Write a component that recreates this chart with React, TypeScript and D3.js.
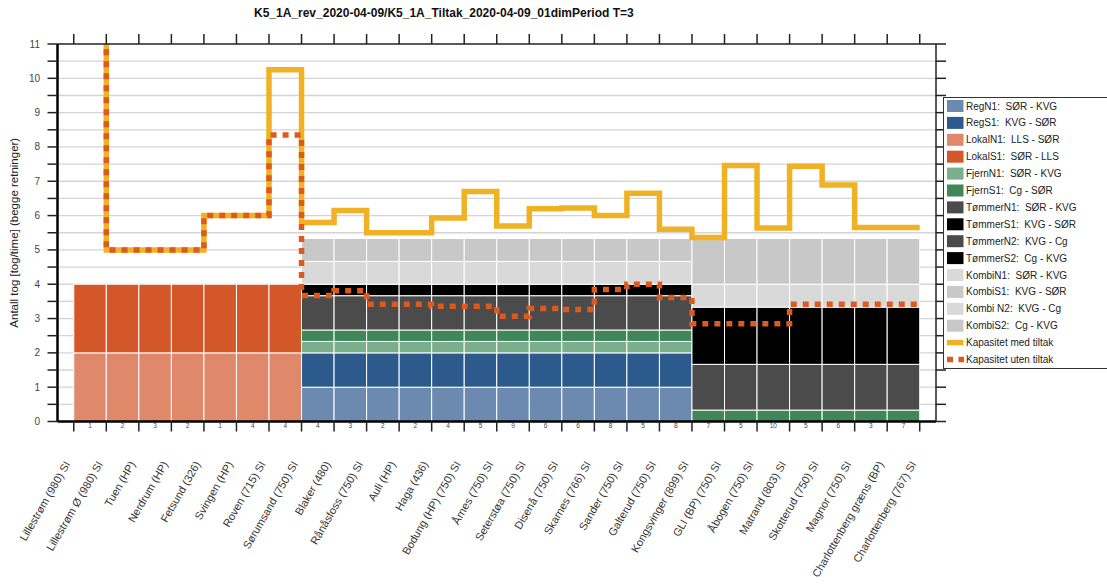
import React from "react";
import * as d3 from "d3";

// ── Layout ───────────────────────────────────────────────────────────

const W = 1107;
const H = 588;
const PLOT = { left: 57.5, right: 936, top: 44, bottom: 421.5 };
const FONT = "'Liberation Sans', Arial, sans-serif";

// ── Data ─────────────────────────────────────────────────────────────

const title = "K5_1A_rev_2020-04-09/K5_1A_Tiltak_2020-04-09_01dimPeriod T=3";
const yTitle = "Antall tog [tog/time] (begge retninger)";

const stations = [
  "Lillestrøm (980) SI",
  "Lillestrøm Ø (980) SI",
  "Tuen (HP)",
  "Nerdrum (HP)",
  "Fetsund (326)",
  "Svingen (HP)",
  "Roven (715) SI",
  "Sørumsand (750) SI",
  "Blaker (480)",
  "Rånåsfoss (750) SI",
  "Auli (HP)",
  "Haga (436)",
  "Bodung (HP) (750) SI",
  "Årnes (750) SI",
  "Seterstøa (750) SI",
  "Disenå (750) SI",
  "Skarnes (766) SI",
  "Sander (750) SI",
  "Galterud (750) SI",
  "Kongsvinger (899) SI",
  "GLI (BP) (750) SI",
  "Åbogen (750) SI",
  "Matrand (803) SI",
  "Skotterud (750) SI",
  "Magnor (750) SI",
  "Charlottenberg græns (BP)",
  "Charlottenberg (767) SI",
];

// small numbers printed under each section
const sectionCounts = [1, 2, 3, 2, 1, 4, 4, 4, 3, 2, 2, 4, 5, 9, 6, 6, 8, 5, 8, 7, 5, 10, 5, 6, 3, 7];

// trains per hour per section, one value per section
const regN1 = [0, 0, 0, 0, 0, 0, 0, 1, 1, 1, 1, 1, 1, 1, 1, 1, 1, 1, 1, 0, 0, 0, 0, 0, 0, 0];
const regS1 = [0, 0, 0, 0, 0, 0, 0, 1, 1, 1, 1, 1, 1, 1, 1, 1, 1, 1, 1, 0, 0, 0, 0, 0, 0, 0];
const lokalN1 = [2, 2, 2, 2, 2, 2, 2, 0, 0, 0, 0, 0, 0, 0, 0, 0, 0, 0, 0, 0, 0, 0, 0, 0, 0, 0];
const lokalS1 = [2, 2, 2, 2, 2, 2, 2, 0, 0, 0, 0, 0, 0, 0, 0, 0, 0, 0, 0, 0, 0, 0, 0, 0, 0, 0];
const fjernN1 = [0, 0, 0, 0, 0, 0, 0, 0.333, 0.333, 0.333, 0.333, 0.333, 0.333, 0.333, 0.333, 0.333, 0.333, 0.333, 0.333, 0, 0, 0, 0, 0, 0, 0];
const fjernS1 = [0, 0, 0, 0, 0, 0, 0, 0.333, 0.333, 0.333, 0.333, 0.333, 0.333, 0.333, 0.333, 0.333, 0.333, 0.333, 0.333, 0.333, 0.333, 0.333, 0.333, 0.333, 0.333, 0.333];
const tommerN1 = [0, 0, 0, 0, 0, 0, 0, 1, 1, 1, 1, 1, 1, 1, 1, 1, 1, 1, 1, 0, 0, 0, 0, 0, 0, 0];
const tommerS1 = [0, 0, 0, 0, 0, 0, 0, 0.333, 0.333, 0.333, 0.333, 0.333, 0.333, 0.333, 0.333, 0.333, 0.333, 0.333, 0.333, 0, 0, 0, 0, 0, 0, 0];
const tommerN2 = [0, 0, 0, 0, 0, 0, 0, 0, 0, 0, 0, 0, 0, 0, 0, 0, 0, 0, 0, 1.333, 1.333, 1.333, 1.333, 1.333, 1.333, 1.333];
const tommerS2 = [0, 0, 0, 0, 0, 0, 0, 0, 0, 0, 0, 0, 0, 0, 0, 0, 0, 0, 0, 1.667, 1.667, 1.667, 1.667, 1.667, 1.667, 1.667];
const kombiN1 = [0, 0, 0, 0, 0, 0, 0, 0.667, 0.667, 0.667, 0.667, 0.667, 0.667, 0.667, 0.667, 0.667, 0.667, 0.667, 0.667, 0, 0, 0, 0, 0, 0, 0];
const kombiS1 = [0, 0, 0, 0, 0, 0, 0, 0.667, 0.667, 0.667, 0.667, 0.667, 0.667, 0.667, 0.667, 0.667, 0.667, 0.667, 0.667, 0, 0, 0, 0, 0, 0, 0];
const kombiN2 = [0, 0, 0, 0, 0, 0, 0, 0, 0, 0, 0, 0, 0, 0, 0, 0, 0, 0, 0, 0.667, 0.667, 0.667, 0.667, 0.667, 0.667, 0.667];
const kombiS2 = [0, 0, 0, 0, 0, 0, 0, 0, 0, 0, 0, 0, 0, 0, 0, 0, 0, 0, 0, 1.333, 1.333, 1.333, 1.333, 1.333, 1.333, 1.333];

// capacity per section (first section runs off the top of the chart)
const capMedTiltak = [12, 5, 5, 5, 6, 6, 10.25, 5.8, 6.15, 5.5, 5.5, 5.93, 6.7, 5.7, 6.2, 6.22, 6.0, 6.65, 5.6, 5.36, 7.46, 5.64, 7.44, 6.89, 5.65, 5.65];
const capUtenTiltak = [12, 5, 5, 5, 6, 6, 8.35, 3.67, 3.81, 3.42, 3.42, 3.36, 3.36, 3.07, 3.29, 3.26, 3.85, 4.0, 3.61, 2.85, 2.85, 2.85, 3.42, 3.42, 3.42, 3.42];

const series = [
  { key: "regN1", label: "RegN1:  SØR - KVG", color: "#6c8ab0", values: regN1 },
  { key: "regS1", label: "RegS1:  KVG - SØR", color: "#2d5a8c", values: regS1 },
  { key: "lokalN1", label: "LokalN1:  LLS - SØR", color: "#e0886a", values: lokalN1 },
  { key: "lokalS1", label: "LokalS1:  SØR - LLS", color: "#d4572a", values: lokalS1 },
  { key: "fjernN1", label: "FjernN1:  SØR - KVG", color: "#7aae8c", values: fjernN1 },
  { key: "fjernS1", label: "FjernS1:  Cg - SØR", color: "#3f8759", values: fjernS1 },
  { key: "tommerN1", label: "TømmerN1:  SØR - KVG", color: "#4b4b4b", values: tommerN1 },
  { key: "tommerS1", label: "TømmerS1:  KVG - SØR", color: "#000000", values: tommerS1 },
  { key: "tommerN2", label: "TømmerN2:  KVG - Cg", color: "#4b4b4b", values: tommerN2 },
  { key: "tommerS2", label: "TømmerS2:  Cg - KVG", color: "#000000", values: tommerS2 },
  { key: "kombiN1", label: "KombiN1:  SØR - KVG", color: "#d9d9d9", values: kombiN1 },
  { key: "kombiS1", label: "KombiS1:  KVG - SØR", color: "#c8c8c8", values: kombiS1 },
  { key: "kombiN2", label: "Kombi N2:  KVG - Cg", color: "#d9d9d9", values: kombiN2 },
  { key: "kombiS2", label: "KombiS2:  Cg - KVG", color: "#c8c8c8", values: kombiS2 },
];

const YELLOW = "#efb224";
const RED = "#dd5a1e";

// ── Chart ────────────────────────────────────────────────────────────

export default function App() {
  const x = d3.scaleLinear().domain([-0.5, stations.length - 0.5]).range([PLOT.left, PLOT.right]);
  const y = d3.scaleLinear().domain([0, 11]).range([PLOT.bottom, PLOT.top]);

  const rows = sectionCounts.map((_, i) => {
    const r: Record<string, number> = { i };
    series.forEach((s) => (r[s.key] = s.values[i]));
    return r;
  });
  const stacked = d3.stack<Record<string, number>>().keys(series.map((s) => s.key))(rows);

  const capLine = d3
    .line<[number, number]>()
    .x((d) => x(d[0]))
    .y((d) => y(d[1]))
    .curve(d3.curveStepAfter);
  const toPts = (v: number[]): [number, number][] => [
    ...v.map((d, i) => [i, d] as [number, number]),
    [v.length, v[v.length - 1]],
  ];

  const halfTicks = d3.range(0, 11.01, 0.5);
  const legendY = (k: number) => 106 + k * 16.9;

  return (
    <div style={{ position: "absolute", left: 0, top: 0 }}>
      <svg width={W} height={H} style={{ display: "block", fontFamily: FONT }}>
        <defs>
          <clipPath id="plotClip">
            <rect x={PLOT.left} y={PLOT.top} width={PLOT.right - PLOT.left} height={PLOT.bottom - PLOT.top} />
          </clipPath>
        </defs>

        <text x={254} y={17} fontSize={12} fontWeight="bold" fill="#111">
          {title}
        </text>

        {/* grid */}
        {halfTicks.slice(1, -1).map((t) => (
          <line key={t} x1={PLOT.left} x2={PLOT.right} y1={y(t)} y2={y(t)} stroke="#d4d4d4" strokeWidth={1.3} />
        ))}

        {/* stacked sections */}
        {stacked.map((layer, li) => (
          <g key={layer.key} fill={series[li].color}>
            {layer.map((d, i) =>
              d[1] - d[0] > 0 ? (
                <rect
                  key={i}
                  x={x(i)}
                  y={y(d[1])}
                  width={x(i + 1) - x(i)}
                  height={y(d[0]) - y(d[1])}
                  stroke="#fff"
                  strokeWidth={1}
                />
              ) : null
            )}
          </g>
        ))}

        {/* capacity lines */}
        <g clipPath="url(#plotClip)" fill="none">
          <path d={capLine(toPts(capMedTiltak)) || ""} stroke={YELLOW} strokeWidth={5.5} />
          <path d={capLine(toPts(capUtenTiltak)) || ""} stroke={RED} strokeWidth={5.5} strokeDasharray="6,6" />
        </g>

        {/* axes */}
        <g stroke="#222">
          <line x1={PLOT.left} x2={PLOT.right} y1={PLOT.top} y2={PLOT.top} strokeWidth={1.5} />
          <line x1={PLOT.left} x2={PLOT.right} y1={PLOT.bottom} y2={PLOT.bottom} strokeWidth={2.5} stroke="#000" />
          <line x1={PLOT.left} x2={PLOT.left} y1={PLOT.top} y2={PLOT.bottom} strokeWidth={2.5} stroke="#000" />
          <line x1={PLOT.right} x2={PLOT.right} y1={PLOT.top} y2={PLOT.bottom} strokeWidth={1.5} />
          {halfTicks.map((t) => (
            <g key={t}>
              <line x1={PLOT.left - 10} x2={PLOT.left} y1={y(t)} y2={y(t)} strokeWidth={1.5} />
              <line x1={PLOT.right} x2={PLOT.right + 10} y1={y(t)} y2={y(t)} strokeWidth={1.5} />
            </g>
          ))}
          {stations.map((_, i) => (
            <g key={i}>
              <line x1={x(i)} x2={x(i)} y1={PLOT.top - 10} y2={PLOT.top} strokeWidth={1.5} />
              <line x1={x(i)} x2={x(i)} y1={PLOT.bottom} y2={PLOT.bottom + 10} strokeWidth={1.5} />
            </g>
          ))}
        </g>

        {d3.range(0, 12).map((t) => (
          <text key={t} x={40} y={y(t)} dy="0.35em" textAnchor="end" fontSize={10} fill="#444">
            {t}
          </text>
        ))}

        <text transform={`translate(18,${(PLOT.top + PLOT.bottom) / 2}) rotate(-90)`} textAnchor="middle" fontSize={11.5} fill="#222">
          {yTitle}
        </text>

        {sectionCounts.map((c, i) => (
          <text key={i} x={(x(i) + x(i + 1)) / 2} y={428} textAnchor="middle" fontSize={6.5} fill="#444">
            {c}
          </text>
        ))}

        {stations.map((s, i) => (
          <text key={s} transform={`translate(${x(i) - 3},464) rotate(-60)`} textAnchor="end" fontSize={11} fill="#333">
            {s}
          </text>
        ))}

        {/* legend */}
        <rect x={943.5} y={97.5} width={170} height={271} fill="#fff" stroke="#333" strokeWidth={1} />
        {series.map((s, k) => (
          <g key={s.key}>
            <rect x={947} y={legendY(k) - 6} width={16.5} height={12} fill={s.color} />
            <text x={966} y={legendY(k)} dy="0.35em" fontSize={10} fill="#222" style={{ whiteSpace: "pre" }}>
              {s.label}
            </text>
          </g>
        ))}
        <line x1={947} x2={963.5} y1={legendY(14)} y2={legendY(14)} stroke={YELLOW} strokeWidth={5.5} />
        <text x={966} y={legendY(14)} dy="0.35em" fontSize={10} fill="#222">
          Kapasitet med tiltak
        </text>
        <line x1={947} x2={964} y1={legendY(15)} y2={legendY(15)} stroke={RED} strokeWidth={5.5} strokeDasharray="6,5.5" />
        <text x={966} y={legendY(15)} dy="0.35em" fontSize={10} fill="#222">
          Kapasitet uten tiltak
        </text>
      </svg>
    </div>
  );
}
